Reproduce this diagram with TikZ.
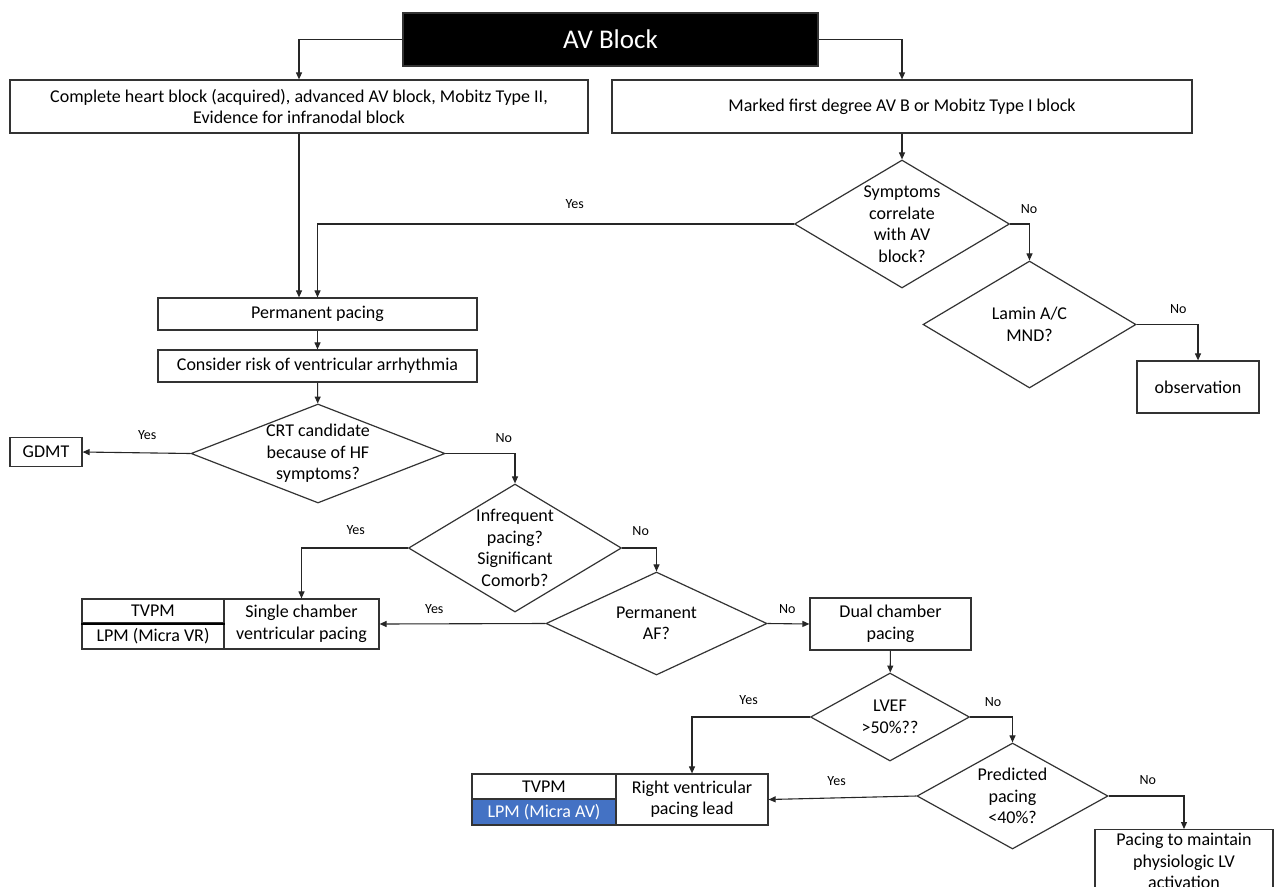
\documentclass[tikz,border=0pt]{standalone}
\usepackage{fontspec}
\setmainfont{Carlito}
\usetikzlibrary{arrows.meta, shapes.geometric, positioning}
\definecolor{lpmblue}{HTML}{4472C4}

\begin{document}
\begin{tikzpicture}[x=1pt,y=-1pt]
	\tikzstyle{sharp} = [-{Triangle[length=7pt,width=6pt]}, draw=black!85, line width=1.1pt]
	\tikzstyle{box} = [draw=black!80, line width=1.2pt, rectangle, inner sep=2pt, align=center, font=\fontsize{18}{21.5}\selectfont]
	\tikzstyle{ques} = [draw=black!80, line width=1.2pt, diamond, inner sep=0pt]
	\tikzstyle{qtext} = [align=center, font=\fontsize{18}{21.5}\selectfont]
	\tikzstyle{ans} = [font=\fontsize{14}{16}\selectfont, inner sep=0pt, above=10pt]
	\useasboundingbox (0,0) rectangle (1276,886);
	\clip (0,0) rectangle (1276,886);
	\fill[white] (0,0) rectangle (1276,886);
	% top row
	\node (av) [box, fill=black, text=white, minimum width=415pt, minimum height=53pt, font=\fontsize{27}{30}\selectfont] at (610.5,39.5) {AV Block};
	\node (left) [box, minimum width=578pt, minimum height=53pt] at (299,106.5) {Complete heart block (acquired), advanced AV block, Mobitz Type II,\\ Evidence for infranodal block};
	\node (right) [box, minimum width=580pt, minimum height=53pt] at (902,106.5) {Marked first degree AV B or Mobitz Type I block};
	% right branch
	\node (sym) [ques, minimum width=215pt, minimum height=128pt, label={[qtext]center:{Symptoms\\correlate\\with AV\\block?}}] at (902,224) {};
	\node (lamin) [ques, minimum width=213pt, minimum height=127pt, label={[qtext]center:{Lamin A/C\\MND?}}] at (1029.5,324.5) {};
	\node (obs) [box, minimum width=122pt, minimum height=52pt] at (1198,387) {observation};
	% pacing
	\node (perm) [box, minimum width=319pt, minimum height=32pt] at (317.5,314) {Permanent pacing};
	\node (risk) [box, minimum width=319pt, minimum height=32pt] at (317.5,366) {Consider risk of ventricular arrhythmia};
	\node (crt) [ques, minimum width=254pt, minimum height=99pt, label={[qtext]center:{CRT candidate\\because of HF\\symptoms?}}] at (318,453.5) {};
	\node (gdmt) [box, minimum width=72pt, minimum height=29pt] at (46,452) {GDMT};
	\node (infreq) [ques, minimum width=213pt, minimum height=128pt, label={[qtext]center:{Infrequent\\pacing?\\Significant\\Comorb?}}] at (515,548) {};
	\node (permaf) [ques, minimum width=221pt, minimum height=103pt, label={[qtext]center:{Permanent\\AF?}}] at (656.5,623.5) {};
	\node (tvpmA) [box, minimum width=142pt, minimum height=24pt] at (153,611) {TVPM};
	\node (lpmA) [box, minimum width=142pt, minimum height=26pt] at (153,636) {LPM (Micra VR)};
	\node (single) [box, minimum width=155pt, minimum height=50pt] at (301.5,624) {Single chamber\\ventricular pacing};
	\draw[line width=2.2pt] (tvpmA.south west) -- (tvpmA.south east);
	\node (dual) [box, minimum width=161pt, minimum height=52pt] at (890.5,624) {Dual chamber\\pacing};
	\node (lvef) [ques, minimum width=159pt, minimum height=88pt, label={[qtext]center:{LVEF\\>50\%??}}] at (890,717) {};
	\node (pred) [ques, minimum width=191pt, minimum height=106pt, label={[qtext]center:{Predicted\\pacing\\<40\%?}}] at (1012.5,796) {};
	\node (tvpmB) [box, minimum width=144pt, minimum height=25pt] at (544,786.5) {TVPM};
	\node (lpmB) [box, minimum width=144pt, minimum height=26pt, fill=lpmblue, text=white] at (544,812) {LPM (Micra AV)};
	\node (rv) [box, minimum width=152pt, minimum height=51pt] at (692,799.5) {Right ventricular\\pacing lead};
	\node (pace) [box, minimum width=178pt, anchor=north, inner ysep=4pt] at (1184,829) {Pacing to maintain\\physiologic LV\\activation};
	% connectors
	\draw[sharp] (av.west) -| (left.north);
	\draw[sharp] (av.east) -| (right.north);
	\draw[sharp] (left.south) -- (left.south |- perm.north);
	\draw[sharp] (right.south) -- (sym.north);
	\draw[sharp] (sym.west) -| node[ans, pos=0.23, above=15pt]{Yes} (perm.north);
	\draw[sharp] (sym.east) -| node[ans, pos=0.49]{No} (lamin.north);
	\draw[sharp] (lamin.east) -| node[ans, pos=0.34]{No} (obs.north);
	\draw[sharp] (perm) -- (risk);
	\draw[sharp] (risk) -- (crt);
	\draw[sharp] (crt.west) -- node[ans, pos=0.4, above=13pt]{Yes} (gdmt.east);
	\draw[sharp] (crt.east) -| node[ans, pos=0.42]{No} (infreq.north);
	\draw[sharp] (infreq.west) -| node[ans, pos=0.245, above=13pt]{Yes} (single.north);
	\draw[sharp] (infreq.east) -| node[ans, pos=0.27, above=12pt]{No} (permaf.north);
	\draw[sharp] (permaf.west) -- node[ans, pos=0.67]{Yes} (single.east);
	\draw[sharp] (permaf.east) -- node[ans, pos=0.47]{No} (dual.west);
	\draw[sharp] (dual) -- (lvef);
	\draw[sharp] (lvef.west) -| node[ans, pos=0.26, above=12pt]{Yes} (rv.north);
	\draw[sharp] (lvef.east) -| node[ans, pos=0.27]{No} (pred.north);
	\draw[sharp] (pred.west) -- node[ans, pos=0.54, above=12pt]{Yes} (rv.east);
	\draw[sharp] (pred.east) -| node[ans, pos=0.26, above=11pt]{No} (pace.north);
\end{tikzpicture}
\end{document}
